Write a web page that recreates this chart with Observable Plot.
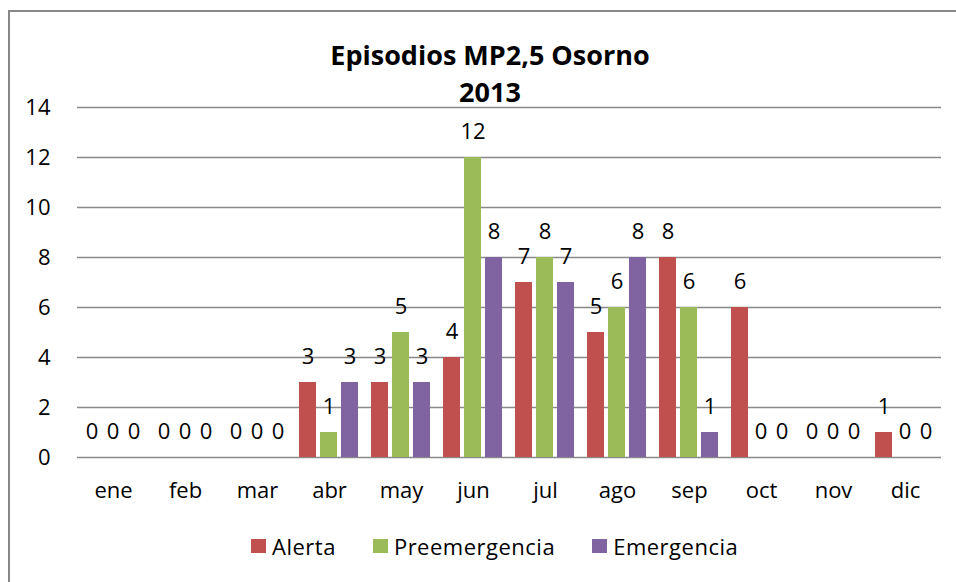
<!DOCTYPE html>
<html>
<head>
<meta charset="utf-8">
<script src="https://cdn.jsdelivr.net/npm/d3@7"></script>
<script src="https://cdn.jsdelivr.net/npm/@observablehq/plot@0.6"></script>
<style>
  html, body { margin: 0; padding: 0; background: #fff; }
  #wrap { position: relative; width: 956px; height: 582px; overflow: hidden; font-family: 'Open Sans', sans-serif; color: #000; }
  #frame { position: absolute; left: 8px; top: 10px; width: 1200px; height: 900px; border-left: 2px solid #878787; border-top: 2px solid #878787; }
  #title { position: relative; height: 100px; padding-top: 36px; box-sizing: border-box; text-align: center; font-weight: bold; font-size: 27px; line-height: 37px; margin-left: 24px; }
  #chart { position: relative; height: 400px; }
  #chart svg text { font-size: 22px; }
  #legend { position: relative; display: flex; justify-content: flex-start; align-items: center; margin-top: 33px; margin-left: 251px; font-size: 22px; line-height: 26px; letter-spacing: 0.5px; }
  .item { display: flex; align-items: center; margin-right: 37px; }
  .sw { width: 15px; height: 14px; margin-right: 6px; }
</style>
</head>
<body>
<div id="wrap">
  <div id="frame"></div>
  <div id="title">Episodios MP2,5 Osorno<br>2013</div>
  <div id="chart"></div>
  <div id="legend"></div>
</div>
<script>
const months = ["ene","feb","mar","abr","may","jun","jul","ago","sep","oct","nov","dic"];
const series = ["Alerta","Preemergencia","Emergencia"];
const alerta = [0,0,0,3,3,4,7,5,8,6,0,1];
const preemergencia = [0,0,0,1,5,12,8,6,6,0,0,0];
const emergencia = [0,0,0,3,3,8,7,8,1,0,0,0];
const colors = ["#C0504D","#9BBB59","#8064A2"];
const yTicks = [0,2,4,6,8,10,12,14];

const seriesValues = [alerta, preemergencia, emergencia];
const data = months.flatMap((m, i) => series.map((s, j) => ({month: m, series: s, value: seriesValues[j][i]})));

const chart = Plot.plot({
  width: 956,
  height: 400,
  marginTop: 7,
  marginBottom: 43,
  marginLeft: 74,
  marginRight: 12,
  style: {fontFamily: "'Open Sans', sans-serif", fontSize: "22px", color: "#000", background: "transparent", overflow: "visible"},
  fx: {domain: months, paddingInner: 0, paddingOuter: 0, axis: "bottom", label: null, tickSize: 0, tickPadding: 25},
  x: {domain: series, paddingInner: 0.19, paddingOuter: 0.3035, axis: null},
  y: {domain: [0, 14], ticks: yTicks, tickSize: 0, tickPadding: 27, label: null},
  color: {domain: series, range: colors},
  marks: [
    Plot.ruleY(yTicks, {stroke: "#898989", strokeWidth: 1.6}),
    Plot.barY(data, {fx: "month", x: "series", y: "value", fill: "series"}),
    Plot.text(data, {fx: "month", x: "series", y: "value", text: d => String(d.value), lineAnchor: "bottom", dy: -19, fill: "#000", fontSize: 22})
  ]
});
document.getElementById("chart").appendChild(chart);

const legend = document.getElementById("legend");
series.forEach((s, j) => {
  const it = document.createElement("div");
  it.className = "item";
  const sw = document.createElement("div");
  sw.className = "sw";
  sw.style.background = colors[j];
  const tx = document.createElement("span");
  tx.textContent = s;
  it.appendChild(sw);
  it.appendChild(tx);
  legend.appendChild(it);
});
</script>
</body>
</html>
